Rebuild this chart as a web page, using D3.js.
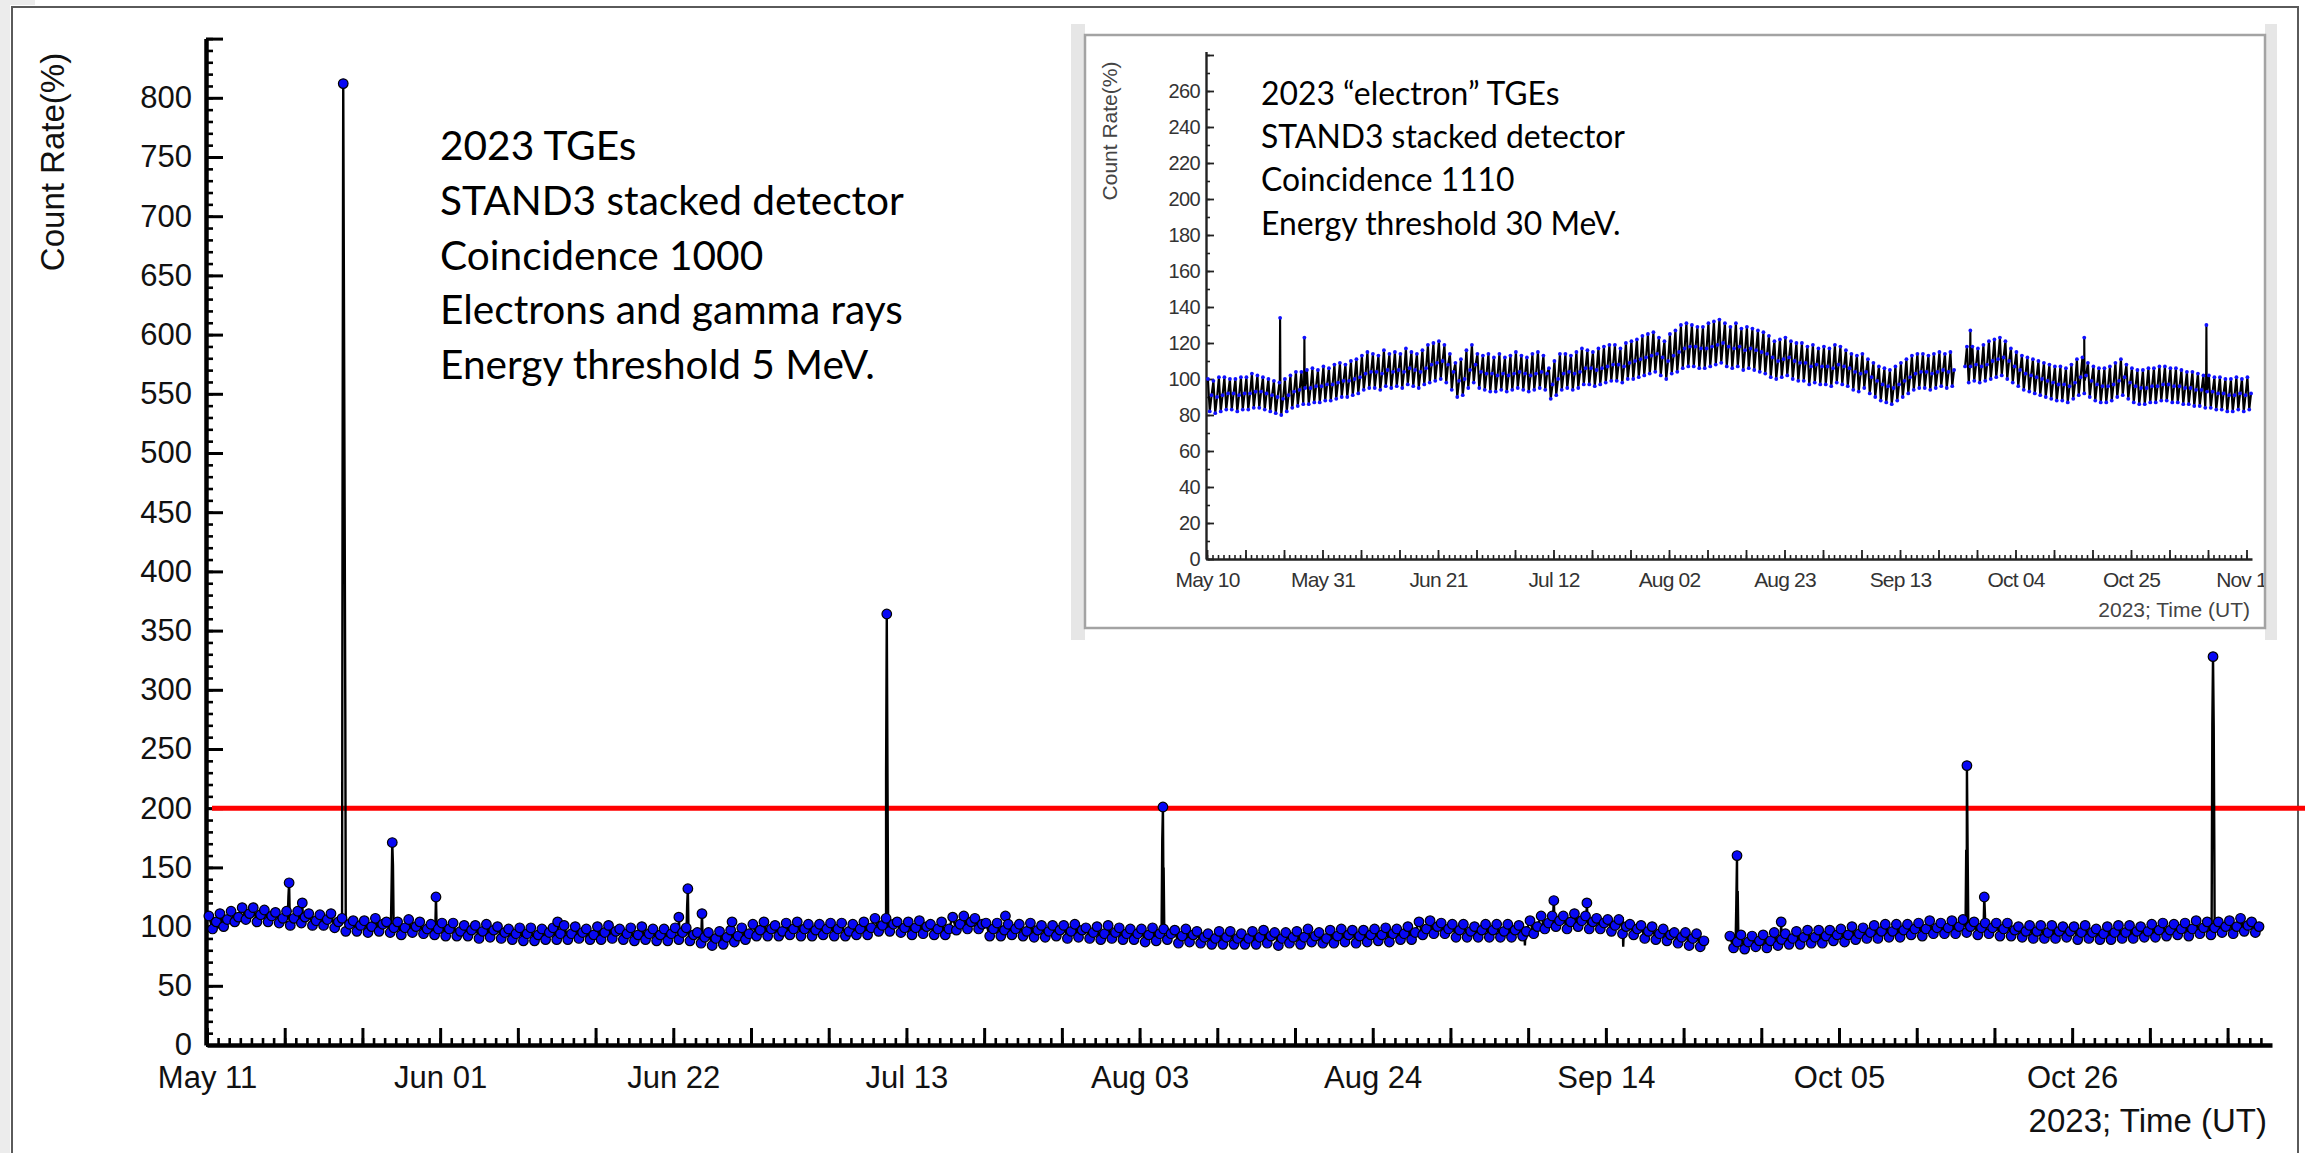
<!DOCTYPE html>
<html><head><meta charset="utf-8">
<script src="https://cdn.jsdelivr.net/npm/d3@7"></script>
<style>html,body{margin:0;padding:0;background:#fff;overflow:hidden}</style>
</head><body>
<svg id="c" width="2305" height="1153"></svg>
<script>
// ---------------- DATA ----------------
// Main chart: daily upper / lower / middle of the 5 MeV count-rate band (%), from May 11, 2023
const mainHigh = [
109,111,113,116,116,114,112, 113,113,111,110,111,107,105, 105,107,104,104,106,104,102,
103,103,101,101,102,100,98, 99,99,98,99,101,100,98, 100,101,98,99,100,98,98,
99,99,95,95,96,97,99, 102,104,101,103,104,102,102, 103,103,102,104,107,107,104,
104,105,102,104,108,109,107, 103,103,102,102,103,101,101, 101,102,99,100,101,99,98,
98,99,98,97,98,96,94, 96,96,94,96,97,95,95, 96,98,95,97,98,97,97,
98,99,98,100,104,105,103, 102,102,100,102,102,102,101, 105,109,109,109,111,109,107,
106,106,102,101,100,98,95, 95,94,null,null,92,93,92, 93,95,94,96,97,97,97,
98,100,99,101,102,102,102, 103,105,103,105,106,104,103, 103,103,100,101,101,101,100,
100,101,98,100,101,101,100, 102,103,102,103,105,104,104, 105,107,104];
const mainLow = [
98,100,104,106,104,104,103, 101,103,101,101,99,96,96, 95,96,95,93,95,94,93,
92,92,92,90,91,90,89, 88,88,89,89,89,90,89, 89,90,89,88,89,88,88,
89,88,86,84,85,87,89, 92,92,92,93,92,92,93, 92,92,93,93,96,96,95,
93,94,93,93,97,98,98, 92,92,93,92,91,91,92, 90,91,90,89,90,89,89,
87,88,89,86,87,86,85, 85,85,85,85,86,84,86, 85,87,86,86,87,86,87,
88,87,89,89,93,94,94, 91,91,91,91,91,91,92, 94,98,100,98,100,98,98,
96,94,93,90,89,88,86, 84,83,null,null,82,81,83, 82,84,85,85,86,86,88,
87,89,90,90,91,91,93, 92,94,94,94,95,93,94, 92,92,91,90,90,90,91,
89,90,89,89,90,90,91, 91,92,93,92,94,93,95, 94,96,95];
const mainMid = [
104,106,108,111,110,109,107, 107,108,105,106,104,102,101, 100,102,99,99,100,98,98,
98,96,97,96,97,95,94, 94,93,95,94,94,95,93, 95,96,94,93,94,93,94,
95,93,91,90,91,92,94, 97,98,96,98,98,97,98, 98,96,98,99,101,102,99,
99,100,98,98,102,104,102, 98,97,98,96,97,96,97, 96,97,95,94,95,94,94,
93,94,94,92,93,91,90, 91,90,90,91,92,90,91, 91,92,90,92,93,92,93,
93,94,94,95,98,100,98, 97,96,97,97,96,97,96, 100,103,105,104,105,104,103,
101,100,98,96,94,93,91, 90,88,null,null,87,87,88, 88,89,90,91,91,92,93,
93,94,95,96,96,97,98, 98,99,99,100,100,99,99, 98,97,96,96,95,96,96,
95,95,94,95,95,96,96, 97,97,98,98,99,99,100, 100,101,100];
// TGE spikes in the main chart: start time (UT) and successive values (%), base -> peak -> base
const mainSpikeStart = ["2023-05-18T06:30","2023-05-19T12:30","2023-05-23T03:30","2023-05-27T13:30",
  "2023-05-31T13:30","2023-06-11T12:30","2023-06-22T10:30","2023-06-23T04:30","2023-06-24T12:30",
  "2023-06-27T05:30","2023-07-11T02:30","2023-07-21T20:30","2023-08-04T23:30","2023-09-09T04:30",
  "2023-09-12T05:30","2023-09-25T16:30","2023-09-29T17:30","2023-10-16T09:30","2023-10-18T00:30",
  "2023-11-07T13:30"];
const mainSpikeValues = [[106,125,137,106],[106,120,106],[103,455,812,632,455,275,101],[100,133,171,152,100],
  [98,125,97],[98,104,97],[95,108,94],[94,118,132,93],[92,111,91],[92,104,91],[101,230,364,230,100],
  [98,109,97],[94,173,201,150,93],[103,110,122,104],[104,120,104],[87,120,160,130,88],[88,104,88],
  [100,165,236,165,100],[99,125,110,99],[99,270,328,270,150,99]];
const mainDipStart = ["2023-09-06T15:30","2023-09-15T10:30"];
const mainDipValues = [[97,84,97],[100,108,83,99]];
const mainThreshold = 200;
const mainXTickLabels = ["May 11","Jun 01","Jun 22","Jul 13","Aug 03","Aug 24","Sep 14","Oct 05","Oct 26"];
const mainYTickLabels = [0,50,100,150,200,250,300,350,400,450,500,550,600,650,700,750,800];
const mainText = ["2023 TGEs","STAND3 stacked detector","Coincidence 1000","Electrons and gamma rays","Energy threshold 5 MeV."];

// Inset: daily upper / lower / middle of the 30 MeV "electron" band (%), from May 10, 2023
const insetHigh = [
100,99,101,101,100,100,101, 101,103,102,101,100,99,98, 100,102,104,104,105,106,105,
107,106,108,109,108,110,111, 113,115,114,113,116,114,115, 114,117,115,114,116,119,120,
121,119,114,109,111,116,119, 114,113,114,112,114,112,113, 115,113,112,114,115,113,106,
110,114,114,113,115,117,116, 115,117,118,119,119,117,120, 121,122,124,125,126,123,121,
125,127,130,131,130,129,129, 131,132,133,131,129,131,128, 129,128,127,126,124,121,122,
123,121,120,120,118,119,117, 118,117,119,118,116,114,113, 114,111,109,107,106,105,107,
109,111,113,114,114,113,114, 115,114,115,null,null,118,118, 117,119,121,122,123,121,117,
115,113,112,111,110,109,108, 107,107,106,108,111,112,109, 107,106,106,107,109,111,108,
106,105,105,106,106,107,107, 106,106,105,104,104,103,102, 102,101,101,100,100,101,100, 101];
const insetLow = [
82,81,82,83,83,82,83, 83,84,84,83,82,81,80, 82,84,85,86,86,87,87,
88,88,89,90,90,91,92, 94,95,95,94,96,95,96, 95,97,96,95,97,98,99,
100,98,94,90,91,95,98, 95,94,93,93,94,93,94, 95,94,93,94,95,94,89,
91,94,95,94,95,97,97, 96,97,98,99,99,98,100, 100,101,102,103,104,102,100,
103,104,106,107,107,106,106, 107,108,109,107,106,107,105, 106,105,104,103,101,100,101,
102,100,99,99,97,98,97, 97,96,98,97,96,94,93, 95,92,90,88,87,86,88,
90,92,94,95,95,94,95, 96,95,96,null,null,98,99, 98,99,100,101,102,100,98,
96,94,93,92,91,90,89, 88,88,87,89,91,92,90, 88,87,87,88,90,91,89,
87,86,86,87,87,88,88, 87,87,86,86,85,85,84, 84,83,83,82,82,83,82, 83];
const insetMid = [
91,90,91,92,92,91,92, 92,93,93,92,91,90,89, 91,93,94,95,95,96,96,
97,97,98,99,99,100,101, 103,104,104,103,105,104,105, 104,106,105,104,106,108,109,
110,108,104,99,100,105,108, 104,103,103,102,103,102,103, 104,103,102,103,104,103,97,
100,103,104,103,104,106,106, 105,106,107,108,108,107,109, 110,111,112,113,114,112,110,
113,115,117,118,118,117,117, 118,119,120,118,117,118,116, 117,116,115,114,112,110,111,
112,110,109,109,107,108,107, 107,106,108,107,106,104,103, 104,101,99,97,96,95,97,
99,101,103,104,104,103,104, 105,104,105,null,107,107,108, 107,108,110,111,112,110,107,
105,103,102,101,100,99,98, 97,97,96,98,101,102,99, 97,96,96,97,99,101,98,
96,95,95,96,96,97,97, 96,96,95,95,94,94,93, 93,92,92,91,91,92,91, 92];
const insetSpikeStart = ["2023-05-23T05:30","2023-05-27T15:30","2023-09-25T17:30","2023-10-16T10:30","2023-11-07T15:30"];
const insetSpikeValues = [[97,134,97],[97,123,97],[108,127,108],[99,123,99],[96,130,96]];
const insetXTickLabels = ["May 10","May 31","Jun 21","Jul 12","Aug 02","Aug 23","Sep 13","Oct 04","Oct 25","Nov 15"];
const insetYTickLabels = [0,20,40,60,80,100,120,140,160,180,200,220,240,260];
const insetText = ["2023 \u201celectron\u201d TGEs","STAND3 stacked detector","Coincidence 1110","Energy threshold 30 MeV."];

// ---------------- DRAWING ----------------
const svg = d3.select("#c");
const AX = "'Liberation Sans', Arial, Helvetica, sans-serif";
const TXT = "Lato, 'Open Sans', sans-serif";
const DAY = 864e5, HOUR = 36e5;
const parse = d3.utcParse("%Y-%m-%dT%H:%M");
const fmt = d3.utcFormat("%b %d");

svg.append("rect").attr("width",2305).attr("height",1153).attr("fill","#fff");
svg.append("rect").attr("x",0).attr("y",0).attr("width",10).attr("height",1153).attr("fill","#ececec");
svg.append("rect").attr("x",0).attr("y",0).attr("width",35).attr("height",5).attr("fill","#ececec");
svg.append("path").attr("d","M12,1153V7H2298V1153").attr("fill","none").attr("stroke","#5a5a5a").attr("stroke-width",2);

// ---- main scales
const mStart = new Date(Date.UTC(2023,4,11)), mEnd = new Date(Date.UTC(2023,10,13));
const x = d3.scaleUtc().domain([mStart, mEnd]).range([207, 2272]);
const y = d3.scaleLinear().domain([0, 850]).range([1045, 38.6]);

// ---- main axes
const gy = svg.append("g").attr("transform","translate(206,0)");
gy.append("g").call(d3.axisLeft(y).tickValues(d3.range(0,851,10)).tickSize(-7).tickSizeOuter(0).tickFormat(""))
  .call(g=>g.select(".domain").remove())
  .selectAll("line").attr("stroke","#000").attr("stroke-width",2.6);
gy.append("g").call(d3.axisLeft(y).tickValues(d3.range(0,851,50)).tickSize(-17).tickSizeOuter(0).tickPadding(14)
    .tickFormat(v=>mainYTickLabels.includes(v)?String(v):""))
  .call(g=>{g.select(".domain").attr("stroke","#000").attr("stroke-width",4.5);
           g.selectAll("line").attr("stroke","#000").attr("stroke-width",3);
           g.selectAll("text").attr("font-size",31).attr("font-family",AX).attr("fill","#111");});

const gx = svg.append("g").attr("transform","translate(0,1045)");
gx.append("g").call(d3.axisBottom(x).tickValues(d3.utcDay.range(mStart, mEnd)).tickSize(-7).tickSizeOuter(0).tickFormat(""))
  .call(g=>g.select(".domain").remove())
  .selectAll("line").attr("stroke","#000").attr("stroke-width",2.6);
gx.append("g").call(d3.axisBottom(x).tickValues(d3.utcThursday.range(mStart, mEnd)).tickSize(-17).tickSizeOuter(0).tickPadding(21)
    .tickFormat(d=>{const s=fmt(d);return mainXTickLabels.includes(s)?s:"";}))
  .call(g=>{g.select(".domain").attr("stroke","#000").attr("stroke-width",4.5);
           g.selectAll("line").attr("stroke","#000").attr("stroke-width",3);
           g.selectAll("text").attr("font-size",31).attr("font-family",AX).attr("fill","#111");});

svg.append("text").attr("transform","translate(64,162) rotate(-90)").attr("text-anchor","middle")
  .attr("font-family",AX).attr("font-size",33).attr("fill","#111").text("Count Rate(%)");
svg.append("text").attr("x",2267).attr("y",1132).attr("text-anchor","end")
  .attr("font-family",AX).attr("font-size",33).attr("fill","#111").text("2023; Time (UT)");

// ---- threshold line
svg.append("line").attr("x1",212).attr("x2",2305).attr("y1",y(mainThreshold)).attr("y2",y(mainThreshold))
  .attr("stroke","#ff0000").attr("stroke-width",5);

// ---- series builder: three samples per day (upper, lower, middle) + event sequences
function buildSeries(start, hi, lo, mid, spStart, spVals, dpStart, dpVals){
  const pts = [];
  hi.forEach((v,i)=>pts.push({t:new Date(+start+(i+1/6)*DAY), v:v, m:true}));
  lo.forEach((v,i)=>pts.push({t:new Date(+start+(i+0.5)*DAY), v:v, m:true}));
  mid.forEach((v,i)=>pts.push({t:new Date(+start+(i+5/6)*DAY), v:v, m:true}));
  spStart.forEach((s,k)=>{const t0=+parse(s); const vals=spVals[k]; const mx=d3.max(vals);
    vals.forEach((v,j)=>pts.push({t:new Date(t0+j*1.5*HOUR), v:v, m:v===mx}));});
  dpStart.forEach((s,k)=>{const t0=+parse(s);
    dpVals[k].forEach((v,j)=>pts.push({t:new Date(t0+j*1.5*HOUR), v:v, m:false}));});
  pts.sort((a,b)=>a.t-b.t);
  return pts;
}
const mainPts = buildSeries(mStart, mainHigh, mainLow, mainMid, mainSpikeStart, mainSpikeValues, mainDipStart, mainDipValues);
const mline = d3.line().defined(d=>d.v!=null).x(d=>x(d.t)).y(d=>y(d.v));
svg.append("path").datum(mainPts).attr("d",mline).attr("fill","none").attr("stroke","#000").attr("stroke-width",2.4);
svg.append("g").selectAll("circle").data(mainPts.filter(d=>d.v!=null&&d.m)).join("circle")
  .attr("cx",d=>x(d.t)).attr("cy",d=>y(d.v)).attr("r",4.8)
  .attr("fill","#0808f5").attr("stroke","#000").attr("stroke-width",1.2);

// ---- annotation blocks (font size fitted to the measured line width)
function fitBlock(lines, x0, y0, dy, refIdx, targetW, g){
  const ts = lines.map((s,i)=>g.append("text").attr("x",x0).attr("y",y0+i*dy)
     .attr("font-family",TXT).attr("font-size",40).attr("fill","#000").text(s));
  const w = ts[refIdx].node().getComputedTextLength();
  const fs = 40*targetW/w;
  ts.forEach(t=>t.attr("font-size",fs.toFixed(2)));
}
fitBlock(mainText, 440, 160, 54.8, 1, 464, svg);

// ---------------- INSET ----------------
const ins = svg.append("g");
ins.append("rect").attr("x",1071).attr("y",24).attr("width",14).attr("height",616).attr("fill","#e6e6e6");
ins.append("rect").attr("x",2265).attr("y",24).attr("width",12).attr("height",616).attr("fill","#e6e6e6");
ins.append("rect").attr("x",1085).attr("y",35).attr("width",1180).attr("height",593)
  .attr("fill","#fff").attr("stroke","#a3a3a3").attr("stroke-width",2.5);
ins.append("clipPath").attr("id","insClip").append("rect").attr("x",1086).attr("y",36).attr("width",1178).attr("height",591);

const iStart = new Date(Date.UTC(2023,4,10)), iEnd = new Date(Date.UTC(2023,10,16));
const xi = d3.scaleUtc().domain([iStart, iEnd]).range([1207, 2252]);
const yi = d3.scaleLinear().domain([0, 282]).range([559, 51.4]);
const IC = "#333";

const giy = ins.append("g").attr("transform","translate(1206,0)");
giy.append("g").call(d3.axisLeft(yi).tickValues(d3.range(0,281,10)).tickSize(-4).tickSizeOuter(0).tickFormat(""))
  .call(g=>g.select(".domain").remove()).selectAll("line").attr("stroke","#222").attr("stroke-width",1.6);
giy.append("g").call(d3.axisLeft(yi).tickValues(d3.range(0,281,20)).tickSize(-8).tickSizeOuter(0).tickPadding(6)
    .tickFormat(v=>insetYTickLabels.includes(v)?String(v):""))
  .call(g=>{g.select(".domain").attr("stroke","#222").attr("stroke-width",2.4);
           g.selectAll("line").attr("stroke","#222").attr("stroke-width",1.8);
           g.selectAll("text").attr("font-size",20).attr("font-family",AX).attr("fill",IC).attr("letter-spacing",-0.6);});

const gix = ins.append("g").attr("transform","translate(0,559)");
gix.append("g").call(d3.axisBottom(xi).tickValues(d3.utcDay.range(iStart, iEnd)).tickSize(-4).tickSizeOuter(0).tickFormat(""))
  .call(g=>g.select(".domain").remove()).selectAll("line").attr("stroke","#222").attr("stroke-width",1.6);
gix.append("g").attr("clip-path","url(#insClip)").attr("transform","translate(0,-559)").append("g").attr("transform","translate(0,559)")
  .call(d3.axisBottom(xi).tickValues(d3.utcWednesday.range(iStart, iEnd)).tickSize(-9).tickSizeOuter(0).tickPadding(13)
    .tickFormat(d=>{const s=fmt(d);return insetXTickLabels.includes(s)?s:"";}))
  .call(g=>{g.select(".domain").attr("stroke","#222").attr("stroke-width",2.4);
           g.selectAll("line").attr("stroke","#222").attr("stroke-width",1.8);
           g.selectAll("text").attr("font-size",21).attr("font-family",AX).attr("fill",IC).attr("letter-spacing",-0.8);});

ins.append("text").attr("transform","translate(1117,131) rotate(-90)").attr("text-anchor","middle")
  .attr("font-family",AX).attr("font-size",21).attr("fill","#444").text("Count Rate(%)");
ins.append("text").attr("x",2250).attr("y",617).attr("text-anchor","end")
  .attr("font-family",AX).attr("font-size",21).attr("fill","#444").text("2023; Time (UT)");

const insetPts = buildSeries(iStart, insetHigh, insetLow, insetMid, insetSpikeStart, insetSpikeValues, [], []);
const iline = d3.line().defined(d=>d.v!=null).x(d=>xi(d.t)).y(d=>yi(d.v));
ins.append("path").datum(insetPts).attr("d",iline).attr("fill","none").attr("stroke","#000").attr("stroke-width",2.1);
ins.append("g").selectAll("circle").data(insetPts.filter(d=>d.v!=null&&d.m)).join("circle")
  .attr("cx",d=>xi(d.t)).attr("cy",d=>yi(d.v)).attr("r",1.9).attr("fill","#1010ff");

fitBlock(insetText, 1261, 105, 43.2, 1, 364, ins);
</script>
</body></html>
